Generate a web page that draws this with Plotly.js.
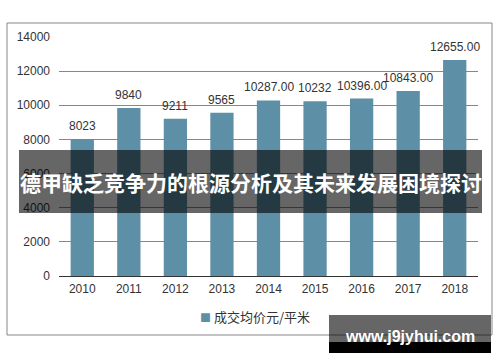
<!DOCTYPE html>
<html>
<head>
<meta charset="utf-8">
<script src="https://cdn.plot.ly/plotly-3.0.1.min.js"></script>
<style>html,body{margin:0;padding:0;background:#fff;}#chart{width:500px;height:362px;}</style>
</head>
<body>
<div id="chart"></div>
<script>
var years = ['2010','2011','2012','2013','2014','2015','2016','2017','2018'];
var prices = [8023, 9840, 9211, 9565, 10287, 10232, 10396, 10843, 12655];
var priceLabels = ['8023','9840','9211','9565','10287.00','10232','10396.00','10843.00','12655.00'];
var seriesName = '成交均价元/平米';
var bannerText = '德甲缺乏竞争力的根源分析及其未来发展困境探讨';
var watermarkText = 'www.j9jyhui.com';
var yTicks = [0, 2000, 4000, 6000, 8000, 10000, 12000, 14000];

var W = 500, H = 362;
var mL = 59, mR = 22, mT = 37, mB = 86;
var pw = W - mL - mR, ph = H - mT - mB;
function px(x){ return (x - mL) / pw; }
function py(y){ return (H - mB - y) / ph; }

var fontFam = '"Liberation Sans", Arial, "Noto Sans CJK SC", sans-serif';
var barColor = '#5d8fa6';

var annotations = years.map(function(yr, i){
  return {x: i, y: prices[i], xref: 'x', yref: 'y', text: priceLabels[i],
    showarrow: false, yanchor: 'bottom', yshift: 4,
    font: {family: fontFam, size: 12, color: '#333'}};
});
// legend entry
annotations.push({xref: 'paper', yref: 'paper', x: px(198), y: py(316),
  text: '<span style="color:' + barColor + ';font-size:11px">■</span> ' + seriesName,
  showarrow: false, xanchor: 'left', yanchor: 'middle',
  font: {family: '"Noto Sans CJK SC", sans-serif', size: 13, color: '#333'}});
annotations.push({xref: 'paper', yref: 'paper', x: px(250.5), y: py(182), text: '<b>' + bannerText + '</b>',
  showarrow: false, xanchor: 'center', yanchor: 'middle',
  font: {family: '"Noto Sans CJK SC", sans-serif', size: 21, color: '#ffffff'}});
annotations.push({xref: 'paper', yref: 'paper', x: px(410), y: py(336), text: '<b>' + watermarkText + '</b>',
  showarrow: false, xanchor: 'center', yanchor: 'middle',
  font: {family: '"Liberation Sans", Arial, sans-serif', size: 16, color: '#ffffff'}});

var shapes = [
  {type: 'rect', xref: 'paper', yref: 'paper', x0: px(7), x1: px(492), y0: py(335), y1: py(23),
    line: {color: '#878787', width: 1}, fillcolor: 'rgba(0,0,0,0)', layer: 'below'},
  {type: 'rect', xref: 'paper', yref: 'paper', x0: px(19), x1: px(482), y0: py(213), y1: py(150),
    line: {width: 0}, fillcolor: 'rgba(0,0,0,0.6)', layer: 'above'},
  {type: 'rect', xref: 'paper', yref: 'paper', x0: px(329), x1: px(491), y0: py(342), y1: py(315),
    line: {width: 0}, fillcolor: 'rgba(0,0,0,0.6)', layer: 'above'},
  {type: 'rect', xref: 'paper', yref: 'paper', x0: px(329), x1: px(491), y0: py(353), y1: py(342),
    line: {width: 0}, fillcolor: '#000000', layer: 'above'}
];

var data = [{
  type: 'bar', x: years, y: prices, name: seriesName,
  marker: {color: barColor}, hoverinfo: 'none'
}];

var layout = {
  width: W, height: H,
  margin: {l: mL, r: mR, t: mT, b: mB, pad: 0},
  paper_bgcolor: '#ffffff', plot_bgcolor: '#ffffff',
  bargap: 0.5,
  showlegend: false,
  xaxis: {type: 'category', range: [-0.5, years.length - 0.5],
    tickfont: {family: fontFam, size: 12, color: '#333'},
    showgrid: false, showline: false, ticks: '', ticklabelstandoff: 4, fixedrange: true},
  yaxis: {range: [0, 14000], tickvals: yTicks, ticktext: yTicks.map(String),
    tickfont: {family: fontFam, size: 12, color: '#333'},
    showgrid: true, gridcolor: '#878787', gridwidth: 1,
    zeroline: true, zerolinecolor: '#333333', zerolinewidth: 1,
    showline: false, ticks: '', ticklabelstandoff: 8, fixedrange: true},
  shapes: shapes,
  annotations: annotations
};

Plotly.newPlot('chart', data, layout, {displayModeBar: false, staticPlot: true});
</script>
</body>
</html>
